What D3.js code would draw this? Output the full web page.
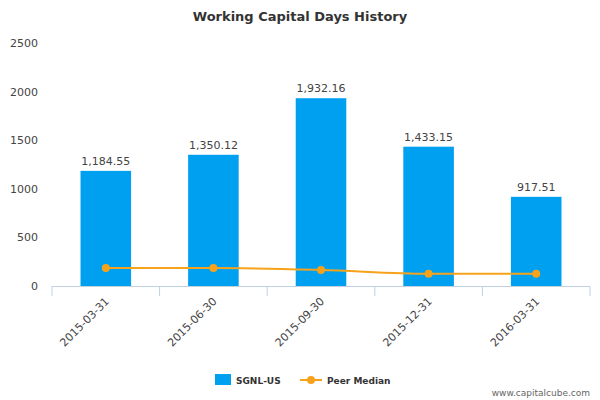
<!DOCTYPE html><html><head><meta charset="utf-8"><script src="https://d3js.org/d3.v7.min.js"></script>
<style>body{margin:0}text{font-family:"DejaVu Sans",sans-serif}</style></head><body><svg width="600" height="400"></svg><script>
const categories=["2015-03-31","2015-06-30","2015-09-30","2015-12-31","2016-03-31"];
const sgnl=[1184.55,1350.12,1932.16,1433.15,917.51];
const peer=[185,185,165,127,127];
const yTicks=[0,500,1000,1500,2000,2500];
const svg=d3.select("svg");
const x=d3.scaleBand().domain(categories).range([52,590]).paddingInner(0.53).paddingOuter(0.265);
const y=d3.scaleLinear().domain([0,2500]).range([286,43]);
svg.append("text").attr("x",300).attr("y",21).attr("text-anchor","middle").attr("font-size",13).attr("font-weight","bold").attr("fill","#333").text("Working Capital Days History");
yTicks.forEach(t=>svg.append("text").attr("x",38).attr("y",y(t)+4).attr("text-anchor","end").attr("font-size",11).attr("fill","#444").text(t));
svg.selectAll(".bar").data(sgnl).enter().append("rect").attr("x",(d,i)=>x(categories[i])).attr("width",x.bandwidth()).attr("y",d=>y(d)).attr("height",d=>286-y(d)).attr("fill","#00a0f0");
svg.selectAll(".lbl").data(sgnl).enter().append("text").attr("x",(d,i)=>x(categories[i])+x.bandwidth()/2).attr("y",d=>y(d)-6).attr("text-anchor","middle").attr("font-size",11).attr("fill","#444").text(d=>d3.format(",.2f")(d));
svg.append("line").attr("x1",52).attr("x2",590).attr("y1",286.5).attr("y2",286.5).attr("stroke","#c0d0e0");
const step=(590-52)/5;
for(let i=0;i<=5;i++)svg.append("line").attr("x1",52+i*step).attr("x2",52+i*step).attr("y1",286).attr("y2",296).attr("stroke","#c0d0e0");
categories.forEach((c,i)=>{const cx=x(c)+x.bandwidth()/2;svg.append("text").attr("transform",`translate(${cx+4},${302}) rotate(-45)`).attr("text-anchor","end").attr("font-size",11).attr("fill","#444").text(c);});
const line=d3.line().x((d,i)=>x(categories[i])+x.bandwidth()/2).y(d=>y(d)).curve(d3.curveMonotoneX);
svg.append("path").attr("d",line(peer)).attr("fill","none").attr("stroke","#f7a21b").attr("stroke-width",2);
svg.selectAll(".pt").data(peer).enter().append("circle").attr("cx",(d,i)=>x(categories[i])+x.bandwidth()/2).attr("cy",d=>y(d)).attr("r",4).attr("fill","#f7a21b");
svg.append("rect").attr("x",215).attr("y",374).attr("width",16).attr("height",11).attr("fill","#00a0f0");
svg.append("text").attr("x",236).attr("y",384).attr("font-size",9).attr("font-weight","bold").attr("fill","#333").text("SGNL-US");
svg.append("line").attr("x1",300).attr("x2",322).attr("y1",380).attr("y2",380).attr("stroke","#f7a21b").attr("stroke-width",2);
svg.append("circle").attr("cx",311).attr("cy",380).attr("r",4).attr("fill","#f7a21b");
svg.append("text").attr("x",327).attr("y",384).attr("font-size",9).attr("font-weight","bold").attr("fill","#333").text("Peer Median");
svg.append("text").attr("x",590).attr("y",396).attr("text-anchor","end").attr("font-size",9).attr("fill","#666").text("www.capitalcube.com");
</script></body></html>
